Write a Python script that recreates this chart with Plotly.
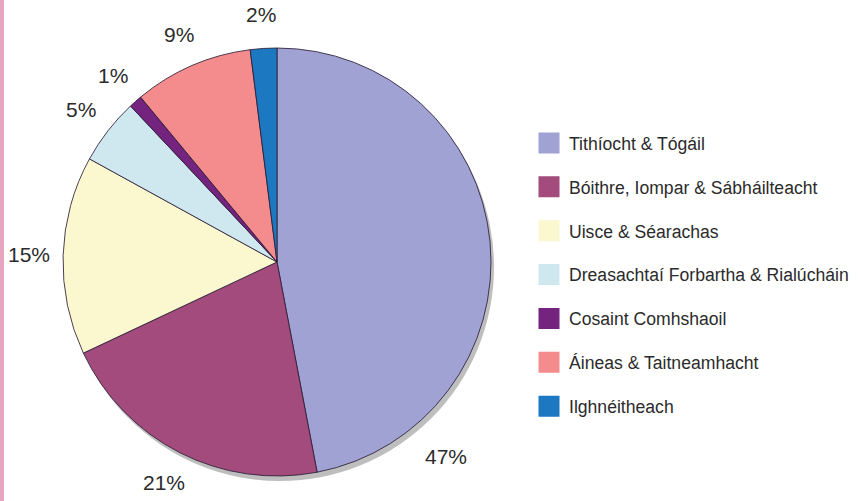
import math
import plotly.graph_objects as go

categories = [
    "Tithíocht & Tógáil",
    "Bóithre, Iompar & Sábháilteacht",
    "Uisce & Séarachas",
    "Dreasachtaí Forbartha & Rialúcháin",
    "Cosaint Comhshaoil",
    "Áineas & Taitneamhacht",
    "Ilghnéitheach",
]
shares = [47, 21, 15, 5, 1, 9, 2]
slice_colors = ["#a0a2d3", "#a24b7c", "#fbf8cf", "#cfe8ef", "#74237f", "#f48c8e", "#1c78c0"]

# layout constants (pixels)
W, H = 862, 501
CX, CY, R = 277, 262, 214
LABEL_R = 248
# label placement tweak: the largest slice's label sits at the lower right (as in the original)
LABEL_ANGLE_OVERRIDE = {0: (139, 258)}
FONT = "Liberation Sans, Arial, Helvetica, sans-serif"
TEXT_COLOR = "#2b2b2b"


def px_to_paper(x, y):
    return x / W, 1 - y / H


fig = go.Figure()

# soft drop shadow behind the pie
sx0, sy0 = px_to_paper(CX - R + 3, CY + R + 5)
sx1, sy1 = px_to_paper(CX + R + 3, CY - R + 5)
fig.add_trace(go.Pie(
    values=[sum(shares)], labels=["shadow"], sort=False, textinfo="none",
    marker=dict(colors=["rgba(70,70,70,0.35)"], line=dict(width=0)),
    showlegend=False, hoverinfo="skip", domain=dict(x=[sx0, sx1], y=[sy0, sy1]),
))

px0, py0 = px_to_paper(CX - R, CY + R)
px1, py1 = px_to_paper(CX + R, CY - R)
fig.add_trace(go.Pie(
    labels=categories,
    values=shares,
    sort=False,
    direction="clockwise",
    rotation=0,
    marker=dict(colors=slice_colors, line=dict(color="rgba(45,30,55,0.85)", width=1)),
    textinfo="none",
    showlegend=False,
    domain=dict(x=[px0, px1], y=[py0, py1]),
    hoverinfo="label+percent",
))

# percentage labels placed outside each slice, at the slice's mid angle
total = sum(shares)
annotations = []
cum = 0
for i, v in enumerate(shares):
    mid = (cum + v / 2) / total * 360
    cum += v
    ang, rr = LABEL_ANGLE_OVERRIDE.get(i, (mid, LABEL_R))
    lx = CX + rr * math.sin(math.radians(ang))
    ly = CY - rr * math.cos(math.radians(ang))
    ax, ay = px_to_paper(lx, ly)
    annotations.append(dict(
        x=ax, y=ay, xref="paper", yref="paper", text=f"{v}%", showarrow=False,
        xanchor="center", yanchor="middle",
        font=dict(size=21, color=TEXT_COLOR, family=FONT),
    ))

# legend entries (one per category)
for name, col in zip(categories, slice_colors):
    fig.add_trace(go.Scatter(
        x=[None], y=[None], mode="markers", name=name, legendgroup=name,
        marker=dict(symbol="square", size=16, color=col, line=dict(color=col, width=5)),
        showlegend=True, hoverinfo="skip",
    ))

fig.update_layout(
    width=W, height=H,
    margin=dict(l=0, r=0, t=0, b=0),
    paper_bgcolor="white", plot_bgcolor="white",
    xaxis=dict(visible=False), yaxis=dict(visible=False),
    showlegend=True,
    legend=dict(
        x=529 / W, xanchor="left", y=1 - 125 / H, yanchor="top",
        font=dict(size=17.6, color=TEXT_COLOR, family=FONT),
        tracegroupgap=18, bgcolor="rgba(0,0,0,0)",
        itemclick=False, itemdoubleclick=False,
    ),
    annotations=annotations,
    shapes=[dict(type="rect", xref="paper", yref="paper", x0=0, x1=4 / W, y0=0, y1=1,
                 fillcolor="#e7a6c0", line=dict(width=0), layer="above")],
)

fig.write_html("out.html", config={"displayModeBar": False},
               post_script="document.body.style.margin='0px';")
